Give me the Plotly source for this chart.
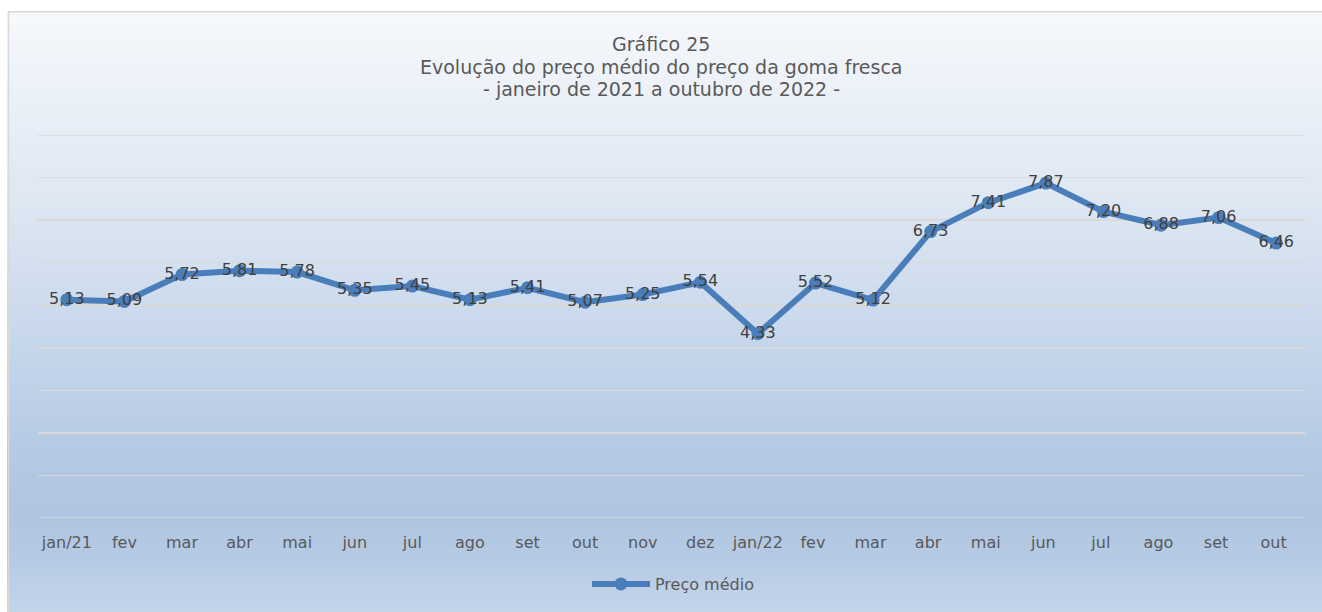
import plotly.graph_objects as go

# ---- data ----
months = ["jan/21", "fev", "mar", "abr", "mai", "jun", "jul", "ago", "set", "out", "nov", "dez",
          "jan/22", "fev ", "mar ", "abr ", "mai ", "jun ", "jul ", "ago ", "set ", "out "]
preco_medio = [5.13, 5.09, 5.72, 5.81, 5.78, 5.35, 5.45, 5.13, 5.41, 5.07, 5.25, 5.54,
               4.33, 5.52, 5.12, 6.73, 7.41, 7.87, 7.20, 6.88, 7.06, 6.46]
labels = [f"{v:.2f}".replace(".", ",") for v in preco_medio]
title_lines = ["Gráfico 25",
               "Evolução do preço médio do preço da goma fresca",
               "- janeiro de 2021 a outubro de 2022 -"]
series_name = "Preço médio"
y_min, y_max = 0, 9

# ---- layout geometry (pixels) ----
W, H = 1322, 612
ML, MR, MT, MB = 38, 17, 135, 93


def fx(p):
    return (p - ML) / (W - ML - MR)


def fy(p):
    return (H - MB - p) / (H - MT - MB)


# background gradient stops (pixel y, rgb)
stops = [(0, (246, 249, 252)), (12, (246, 249, 252)), (135, (230, 237, 246)),
         (220, (219, 229, 241)), (306, (205, 219, 237)), (391, (191, 209, 232)),
         (477, (178, 199, 226)), (519, (175, 197, 225)), (560, (182, 202, 228)),
         (612, (196, 212, 233))]


def col_at(y):
    for (y0, c0), (y1, c1) in zip(stops[:-1], stops[1:]):
        if y0 <= y <= y1:
            t = (y - y0) / (y1 - y0) if y1 > y0 else 0
            return "rgb(%d,%d,%d)" % tuple(round(a + (b - a) * t) for a, b in zip(c0, c1))
    return "rgb(%d,%d,%d)" % stops[-1][1]


shapes = []
step = 2
y = 11
while y < 612:
    shapes.append(dict(type="rect", xref="paper", yref="paper", layer="below",
                       x0=fx(7), x1=fx(1330), y0=fy(min(y + step + 1.5, 616)), y1=fy(y),
                       fillcolor=col_at(y + step / 2), line=dict(width=0)))
    y += step
# border (top/left visible)
shapes.append(dict(type="rect", xref="paper", yref="paper", layer="below",
                   x0=fx(8.5), x1=fx(1340), y0=fy(630), y1=fy(11.5),
                   fillcolor="rgba(0,0,0,0)", line=dict(color="#d9d9d9", width=1.5)))
# gridlines at the range ends (plotly hides them at the edges)
for v in (y_min, y_max):
    shapes.append(dict(type="line", xref="paper", yref="y", layer="below",
                       x0=0, x1=1, y0=v, y1=v, line=dict(color="#d9d9d9", width=1.5)))

fig = go.Figure()
fig.add_trace(go.Scatter(
    x=months, y=preco_medio, name=series_name,
    mode="lines+markers+text", text=labels, textposition="middle center",
    textfont=dict(family="DejaVu Sans", size=16, color="#404040"),
    line=dict(color="#4A7EBB", width=6),
    marker=dict(color="#4A7EBB", size=13),
    hoverinfo="skip", cliponaxis=False,
))

annotations = []
for txt, base in zip(title_lines, [50, 73, 95.5]):
    annotations.append(dict(text=txt, xref="paper", yref="paper", x=fx(661),
                            y=fy(base + 1.5), xanchor="center", yanchor="bottom",
                            yshift=-5, showarrow=False,
                            font=dict(family="DejaVu Sans", size=19, color="#595959")))

fig.update_layout(
    width=W, height=H,
    margin=dict(l=ML, r=MR, t=MT, b=MB, pad=0),
    paper_bgcolor="white", plot_bgcolor="rgba(0,0,0,0)",
    shapes=shapes, annotations=annotations,
    font=dict(family="DejaVu Sans", color="#595959"),
    showlegend=True,
    hovermode=False,
    legend=dict(orientation="h", x=fx(673), xanchor="center", y=fy(584), yanchor="middle",
                itemwidth=58,
                font=dict(family="DejaVu Sans", size=16, color="#595959"),
                bgcolor="rgba(0,0,0,0)"),
    xaxis=dict(type="category", range=[-0.5, len(months) - 0.5], showgrid=False,
               showline=False, zeroline=False, ticks="",
               tickfont=dict(family="DejaVu Sans", size=16, color="#595959"),
               ticklabelstandoff=13, fixedrange=True),
    yaxis=dict(range=[y_min, y_max], tickvals=list(range(y_min, y_max + 1)),
               showticklabels=False, showgrid=True, gridcolor="#d9d9d9", gridwidth=1.5,
               zeroline=False, showline=False, ticks="", fixedrange=True),
)

fig.write_html("out.html",
               config={"displayModeBar": False, "staticPlot": True},
               post_script="document.body.style.margin='0';"
                           "document.documentElement.style.overflow='hidden';")
